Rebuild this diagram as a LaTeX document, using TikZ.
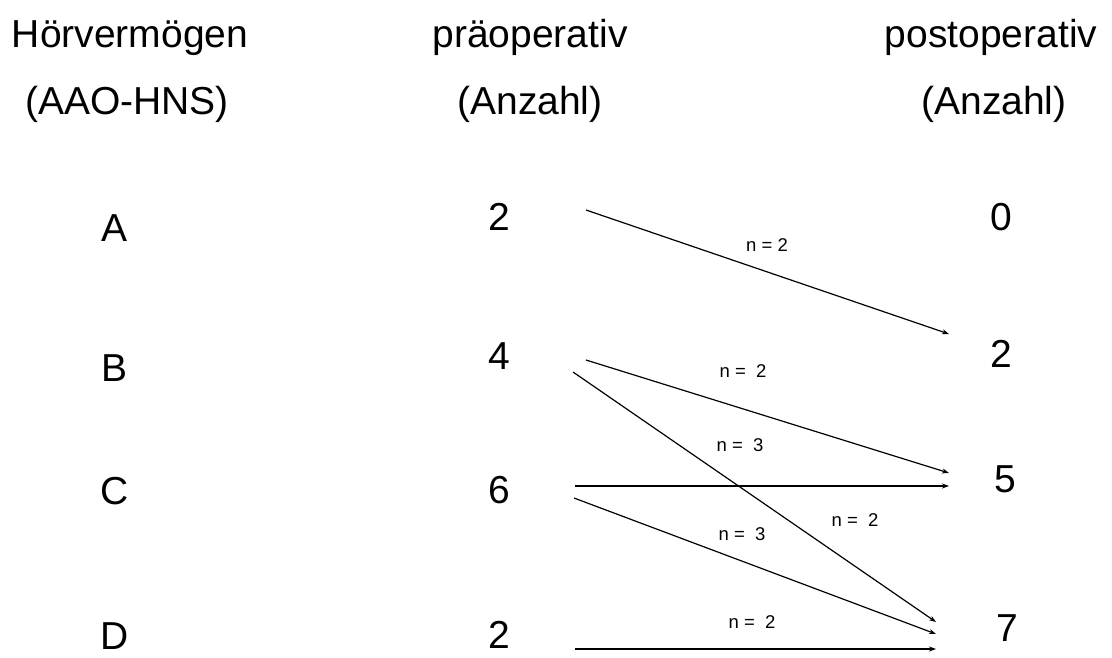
\documentclass[tikz,border=0pt]{standalone}
\usepackage{fontspec}
\setmainfont{Liberation Sans}
\usetikzlibrary{arrows.meta}
\begin{document}
\begin{tikzpicture}[x=1pt,y=-1pt,
  big/.style={inner sep=0pt,font=\fontsize{39}{44}\selectfont},
  head/.style={inner sep=0pt,anchor=base,font=\fontsize{39}{44}\selectfont},
  lab/.style={inner sep=0pt,font=\fontsize{18.5}{20}\selectfont},
  flow/.style={draw,line width=1.2pt,-{Stealth[length=7pt,width=5pt]},shorten >=0pt}]
\useasboundingbox (0,0) rectangle (1112,657);
% headers
\node[head] (h1) at (130,47) {Hörvermögen};
\node[head] (h2) at (530,47) {präoperativ};
\node[head] (h3) at (991,47) {postoperativ};
\node[head] (s1) at (127,114) {(AAO-HNS)};
\node[head] (s2) at (530,114) {(Anzahl)};
\node[head] (s3) at (994,114) {(Anzahl)};
% grades
\node[big] (gA) at (115,228) {A};
\node[big] (gB) at (115,368) {B};
\node[big] (gC) at (115,491) {C};
\node[big] (gD) at (115,636) {D};
% pre
\node[big] (pA) at (499,217) {2};
\node[big] (pB) at (499,356) {4};
\node[big] (pC) at (499,490) {6};
\node[big] (pD) at (499,635) {2};
% post
\node[big] (qA) at (1001,217) {0};
\node[big] (qB) at (1001,354) {2};
\node[big] (qC) at (1005,479) {5};
\node[big] (qD) at (1007,628) {7};
% connector ends
\coordinate (a1s) at (586,210); \coordinate (a1e) at (949,334);
\coordinate (a2s) at (586,360); \coordinate (a2e) at (949,473);
\coordinate (a3s) at (573,372); \coordinate (a3e) at (936,622);
\coordinate (a4s) at (575,486); \coordinate (a4e) at (949,486);
\coordinate (a5s) at (574,498); \coordinate (a5e) at (936,634);
\coordinate (a6s) at (575,649); \coordinate (a6e) at (936,649);
\draw[flow] (a1s) -- (a1e);
\draw[flow] (a2s) -- (a2e);
\draw[flow] (a3s) -- (a3e);
\draw[flow] (a4s) -- (a4e);
\draw[flow] (a5s) -- (a5e);
\draw[flow] (a6s) -- (a6e);
% labels
\node[lab] (l1) at (767,245) {n = 2};
\node[lab] (l2) at (743,371) {n =\ \ 2};
\node[lab] (l3) at (740,445) {n =\ \ 3};
\node[lab] (l4) at (855,520) {n =\ \ 2};
\node[lab] (l5) at (742,534) {n =\ \ 3};
\node[lab] (l6) at (752,622) {n =\ \ 2};
\end{tikzpicture}
\end{document}
